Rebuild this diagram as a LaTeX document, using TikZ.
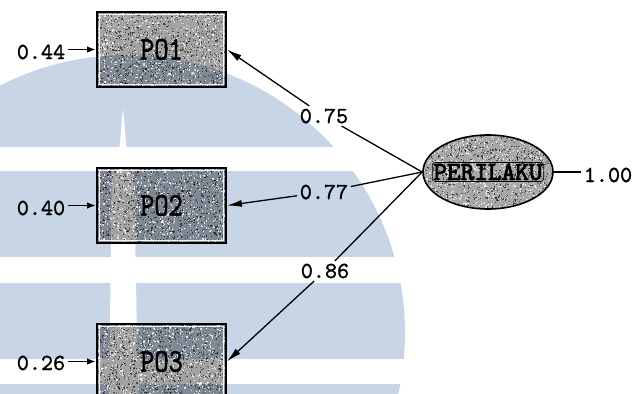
\documentclass[tikz,border=0pt]{standalone}
\usepackage{fontspec}
\usepackage{graphicx}
\usetikzlibrary{arrows.meta,shapes.geometric}
\definecolor{wmblue}{RGB}{200,213,230}
% typewriter faces, slightly emboldened
\newfontfamily\coeffam{lmmono10-regular.otf}[FakeBold=1.2]
\newfontfamily\namefam{lmmono10-regular.otf}[FakeBold=1.6]
\newfontfamily\latfam{lmmono10-regular.otf}[FakeBold=3.2]
% text helpers: coefficients, indicator names, latent name
\newcommand{\coef}[1]{{\fontsize{23}{23}\selectfont\coeffam #1}}
\newcommand{\indname}[1]{\scalebox{0.82}[1]{\fontsize{33}{33}\selectfont\namefam #1}}
\newcommand{\latname}[1]{{\fontsize{26}{26}\selectfont\latfam #1}}

\begin{document}
\begin{tikzpicture}[x=1pt,y=-1pt,
  speckle/.style={path picture={
    \pgfmathsetseed{#1}
    \foreach \i in {1,...,900}{
      \fill[black, fill opacity=0.55]
        (path picture bounding box.south west) ++({135*rnd},{-80*rnd}) rectangle ++(1.2,-1.2);}
    \foreach \i in {1,...,700}{
      \fill[white, fill opacity=0.75]
        (path picture bounding box.south west) ++({135*rnd},{-80*rnd}) rectangle ++(1.2,-1.2);}
    \draw[white, line width=1.2pt, draw opacity=0.9]
      ([shift={(2.6pt,2.6pt)}]path picture bounding box.south west) rectangle
      ([shift={(-2.6pt,-2.6pt)}]path picture bounding box.north east);}},
  indicator/.style={rectangle, draw=black, line width=1.8pt,
    minimum width=129pt, minimum height=75pt, inner sep=0pt,
    fill=black, fill opacity=0.36, text opacity=1, speckle=#1},
  latent/.style={ellipse, draw=black, line width=1.6pt,
    minimum width=130pt, minimum height=74pt, inner sep=0pt,
    fill=black, fill opacity=0.34, text opacity=1,
    path picture={
      \pgfmathsetseed{77}
      \foreach \i in {1,...,900}{
        \fill[black, fill opacity=0.55]
          (path picture bounding box.south west) ++({135*rnd},{-80*rnd}) rectangle ++(1.2,-1.2);}
      \foreach \i in {1,...,760}{
        \fill[white, fill opacity=0.75]
          (path picture bounding box.south west) ++({135*rnd},{-80*rnd}) rectangle ++(1.2,-1.2);}}},
  latframe/.style={draw=black, line width=0.7pt, rounded corners=3pt, inner sep=1.2pt},
  coefnode/.style={inner sep=2.5pt},
  loading/.style={line width=1.3pt, -{Latex[length=15pt,width=7pt]}},
  plainline/.style={line width=1.3pt},
  errarrow/.style={line width=1.8pt, -{Latex[length=9pt,width=6.5pt]}}]

\useasboundingbox (0,0) rectangle (638,394);

% background emblem
\begin{scope}
  \clip (0,0) rectangle (638,394);
  \fill[wmblue] (127,333) circle[radius=278];
  \fill[white] (0,147) rectangle (638,171);
  \fill[white] (0,257) rectangle (638,283);
  \fill[white] (0,359) rectangle (638,384);
  \fill[white] (123,108) -- (126.5,147) -- (119.5,147) -- cycle;
  \fill[white] (112,171) -- (134,171) -- (138,394) -- (109,394) -- cycle;
\end{scope}

% observed indicators
\node[indicator=11] (p1) at (161.5,49.5) {\indname{PO1}};
\node[indicator=23] (p2) at (161.5,205.5) {\indname{PO2}};
\node[indicator=37] (p3) at (161.5,361.5) {\indname{PO3}};

% latent variable
\node[latent] (lat) at (488,172) {};
\node[latframe] (latlabel) at (lat) {\latname{PERILAKU}};

% error variances
\node[coefnode] (e1) at (41,52) {\coef{0.44}};
\node[coefnode] (e2) at (41,208) {\coef{0.40}};
\node[coefnode] (e3) at (41,363) {\coef{0.26}};
\draw[errarrow] (p1.west -| e1.east) -- (p1.west);
\draw[errarrow] (p2.west -| e2.east) -- (p2.west);
\draw[errarrow] (p3.west -| e3.east) -- (p3.west);

% loadings
\node[coefnode] (l1) at (324,116) {\coef{0.75}};
\node[coefnode] (l2) at (324,192) {\coef{0.77}};
\node[coefnode] (l3) at (325,271) {\coef{0.86}};
\draw[plainline] (lat.west) -- (l1);
\draw[loading] (l1) -- (p1.east);
\draw[plainline] (lat.west) -- (l2);
\draw[loading] (l2) -- (p2.east);
\draw[plainline] (lat.west) -- (l3);
\draw[loading] (l3) -- (p3.east);

% latent variance
\node[coefnode] (v) at (608,175) {\coef{1.00}};
\draw[plainline] (lat.east) -- (v.west |- lat.east);
\end{tikzpicture}
\end{document}
